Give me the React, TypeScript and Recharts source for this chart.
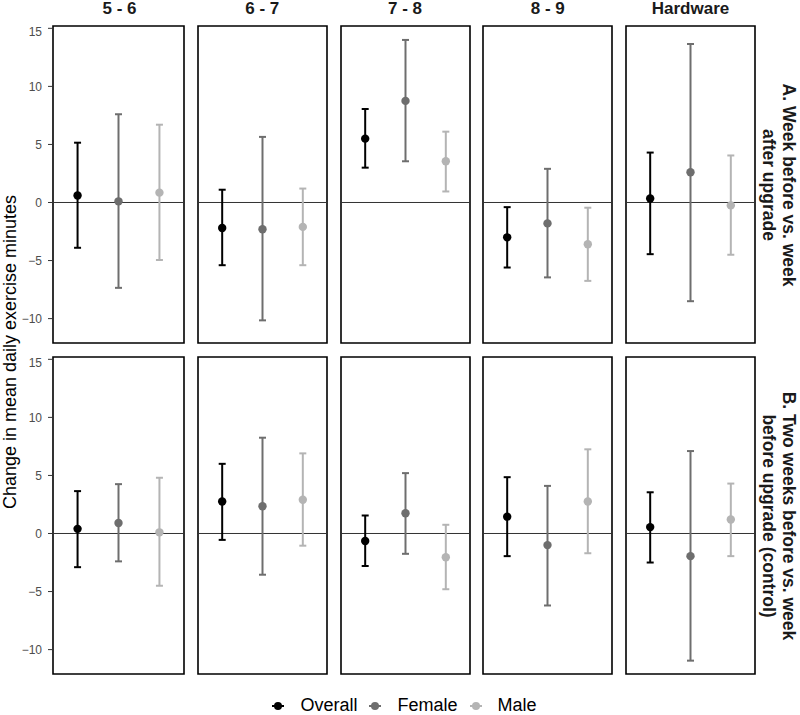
import {
    ErrorBar,
    ReferenceArea,
    ReferenceLine,
    Scatter,
    ScatterChart,
    XAxis,
    YAxis,
} from 'recharts';

const facets = ['5 - 6', '6 - 7', '7 - 8', '8 - 9', 'Hardware'];
const rowLabels = [
    ['A. Week before vs. week', 'after upgrade'],
    ['B. Two weeks before vs. week', 'before upgrade (control)'],
];
const groups = ['Overall', 'Female', 'Male'];
const groupColors = ['#000000', '#6e6e6e', '#b4b4b4'];
const yTicks = [-10, -5, 0, 5, 10, 15];
const yDomain: [number, number] = [-12.1, 15.2];

// row A: week before vs. week after upgrade  [facet][Overall, Female, Male]
const rowAEstimate = [
    [0.6, 0.1, 0.85],
    [-2.2, -2.3, -2.1],
    [5.5, 8.75, 3.55],
    [-3.0, -1.8, -3.6],
    [0.35, 2.6, -0.25],
];
const rowALower = [
    [-3.9, -7.35, -4.95],
    [-5.4, -10.15, -5.4],
    [3.0, 3.55, 0.95],
    [-5.6, -6.45, -6.75],
    [-4.45, -8.5, -4.5],
];
const rowAUpper = [
    [5.15, 7.6, 6.7],
    [1.1, 5.65, 1.2],
    [8.05, 14.0, 6.1],
    [-0.4, 2.9, -0.45],
    [4.3, 13.65, 4.05],
];

// row B: two weeks before vs. week before upgrade (control)
const rowBEstimate = [
    [0.4, 0.9, 0.1],
    [2.75, 2.35, 2.9],
    [-0.65, 1.75, -2.05],
    [1.45, -1.0, 2.75],
    [0.55, -1.95, 1.2],
];
const rowBLower = [
    [-2.9, -2.4, -4.5],
    [-0.55, -3.55, -1.05],
    [-2.8, -1.75, -4.8],
    [-1.95, -6.2, -1.7],
    [-2.5, -10.95, -1.95],
];
const rowBUpper = [
    [3.65, 4.25, 4.8],
    [6.0, 8.25, 6.9],
    [1.55, 5.2, 0.75],
    [4.85, 4.1, 7.25],
    [3.55, 7.1, 4.3],
];

const rows = [
    { est: rowAEstimate, lo: rowALower, hi: rowAUpper },
    { est: rowBEstimate, lo: rowBLower, hi: rowBUpper },
];

const FONT = '"Liberation Sans", Arial, sans-serif';
const PANEL_W = 129;
const PANEL_H = 317;
const PANEL_LEFT = 55;
const PANEL_STEP = 142.75;
const ROW_TOPS = [26, 357];
const AXIS_W = 55;
const PAD = 2;

const fmtTick = (v: number) => String(v).replace('-', '\u2212');

function Dot(props: any) {
    const { cx, cy, fill } = props;
    return <circle cx={cx} cy={cy} r={4.2} fill={fill} />;
}

function Panel({ row, col }: { row: number; col: number }) {
    const { est, lo, hi } = rows[row];
    const first = col === 0;
    const width = PANEL_W + PAD * 2 + (first ? AXIS_W : 0);
    const left = PANEL_LEFT + col * PANEL_STEP - PAD - (first ? AXIS_W : 0);
    return (
        <div style={{ position: 'absolute', left, top: ROW_TOPS[row] - PAD }}>
            <ScatterChart
                width={width}
                height={PANEL_H + PAD * 2}
                margin={{ top: PAD, right: PAD, bottom: PAD, left: PAD }}
            >
                <XAxis type="number" dataKey="x" domain={[0.4, 3.6]} hide />
                <YAxis
                    type="number"
                    dataKey="y"
                    domain={yDomain}
                    ticks={yTicks}
                    hide={!first}
                    width={first ? AXIS_W - PAD : 0}
                    axisLine={false}
                    tickSize={5}
                    tickMargin={6}
                    tickFormatter={fmtTick}
                    tickLine={{ stroke: '#333333' }}
                    tick={{ fontSize: 12, fill: '#4d4d4d', fontFamily: FONT }}
                    allowDataOverflow
                />
                <ReferenceLine y={0} stroke="#333333" strokeWidth={1} />
                {groups.map((g, i) => (
                    <Scatter
                        key={g}
                        name={g}
                        data={[
                            {
                                x: i + 1,
                                y: est[col][i],
                                err: [est[col][i] - lo[col][i], hi[col][i] - est[col][i]],
                            },
                        ]}
                        fill={groupColors[i]}
                        shape={<Dot />}
                        isAnimationActive={false}
                    >
                        <ErrorBar
                            dataKey="err"
                            direction="y"
                            width={3.5}
                            stroke={groupColors[i]}
                            strokeWidth={2}
                        />
                    </Scatter>
                ))}
                <ReferenceArea
                    x1={0.4}
                    x2={3.6}
                    y1={yDomain[0]}
                    y2={yDomain[1]}
                    fill="none"
                    stroke="#000000"
                    strokeWidth={1.6}
                />
            </ScatterChart>
        </div>
    );
}

function LegendKey({ color }: { color: string }) {
    return (
        <svg width={14} height={10} style={{ marginRight: 15 }}>
            <line x1={1} y1={5} x2={13} y2={5} stroke={color} strokeWidth={2} />
            <circle cx={7} cy={5} r={4} fill={color} />
        </svg>
    );
}

export default function App() {
    return (
        <div
            style={{
                position: 'absolute',
                left: 0,
                top: 0,
                width: 800,
                height: 715,
                background: '#ffffff',
                fontFamily: FONT,
                overflow: 'hidden',
            }}
        >
            {facets.map((f, c) => (
                <div
                    key={f}
                    style={{
                        position: 'absolute',
                        left: PANEL_LEFT + c * PANEL_STEP,
                        width: PANEL_W,
                        top: 0,
                        textAlign: 'center',
                        fontWeight: 'bold',
                        fontSize: 17,
                        lineHeight: '17px',
                        color: '#1a1a1a',
                    }}
                >
                    {f}
                </div>
            ))}

            {rows.map((_, r) =>
                facets.map((f, c) => <Panel key={`${r}-${f}`} row={r} col={c} />),
            )}

            {rowLabels.map((lines, r) => (
                <div
                    key={lines[0]}
                    style={{
                        position: 'absolute',
                        left: 778 - PANEL_H / 2,
                        top: ROW_TOPS[r] + PANEL_H / 2 - 20,
                        width: PANEL_H,
                        height: 40,
                        transform: 'rotate(90deg)',
                        textAlign: 'center',
                        fontWeight: 'bold',
                        fontSize: 17.5,
                        lineHeight: '20px',
                        color: '#1a1a1a',
                        whiteSpace: 'nowrap',
                    }}
                >
                    {lines[0]}
                    <br />
                    {lines[1]}
                </div>
            ))}

            <div
                style={{
                    position: 'absolute',
                    left: 10 - 200,
                    top: 352 - 9,
                    width: 400,
                    height: 18,
                    transform: 'rotate(-90deg)',
                    textAlign: 'center',
                    fontSize: 18,
                    lineHeight: '18px',
                    color: '#000000',
                    whiteSpace: 'nowrap',
                }}
            >
                Change in mean daily exercise minutes
            </div>

            <div
                style={{
                    position: 'absolute',
                    left: 0,
                    width: 800,
                    top: 696,
                    height: 19,
                    display: 'flex',
                    justifyContent: 'center',
                    alignItems: 'center',
                    fontSize: 18,
                    lineHeight: '19px',
                    paddingLeft: 8,
                    boxSizing: 'border-box',
                }}
            >
                {groups.map((g, i) => (
                    <div
                        key={g}
                        style={{
                            display: 'flex',
                            alignItems: 'center',
                            marginRight: i < groups.length - 1 ? 11 : 0,
                        }}
                    >
                        <LegendKey color={groupColors[i]} />
                        <span>{g}</span>
                    </div>
                ))}
            </div>
        </div>
    );
}
